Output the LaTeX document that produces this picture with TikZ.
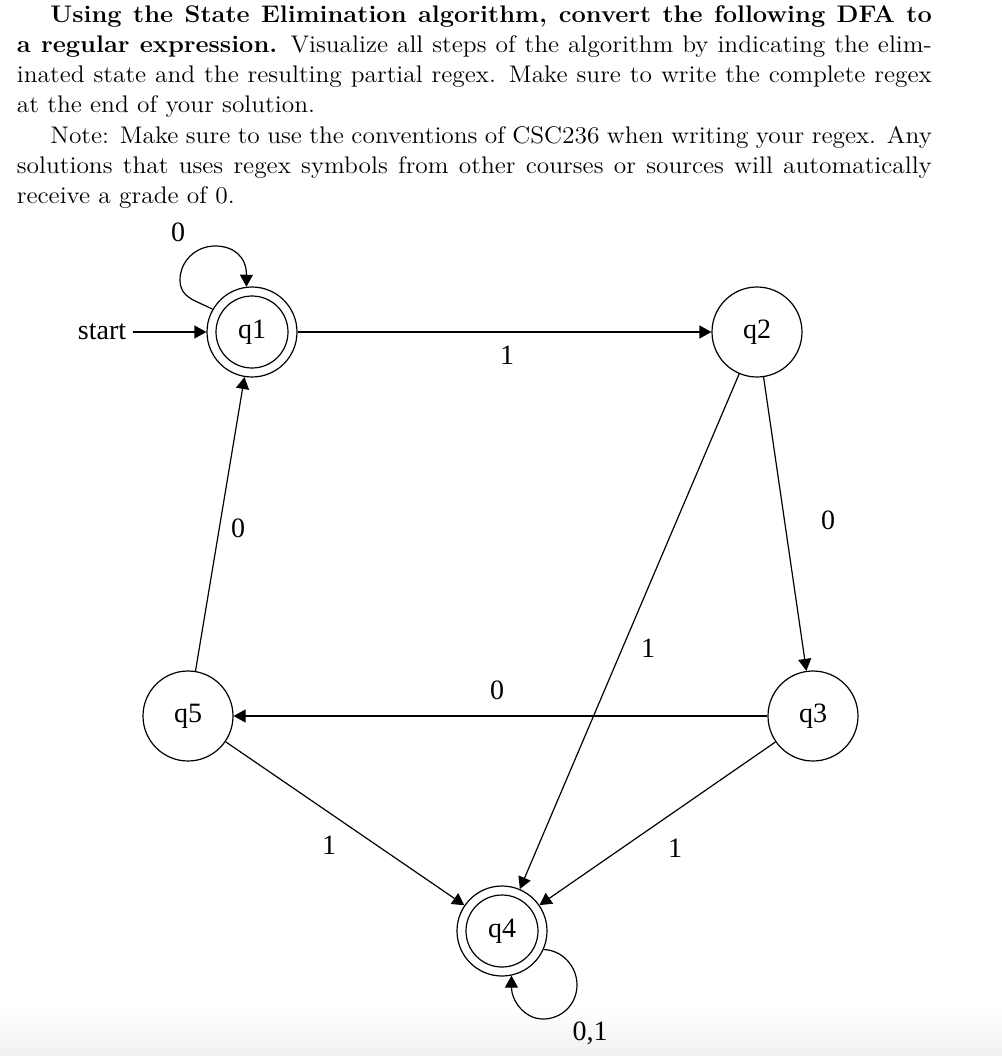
\documentclass[tikz,border=0pt]{standalone}
\usepackage{fontspec}
\newfontfamily\diagfont{Liberation Serif}
\usetikzlibrary{arrows.meta}
\newcommand{\fullline}[1]{\makebox[\linewidth][s]{#1}\\}
\newcommand{\raggline}[1]{\makebox[\linewidth][l]{#1}\\}
\begin{document}
\begin{tikzpicture}[x=0.5pt,y=-0.5pt,
  st/.style={circle, draw, line width=0.6pt, minimum size=45pt, inner sep=0pt, font=\diagfont\fontsize{14}{16}\selectfont},
  acc/.style={st, path picture={\draw[line width=0.6pt] (path picture bounding box.center) circle (18pt);}},
  lbl/.style={font=\diagfont\fontsize{14}{16}\selectfont, inner sep=0pt},
  tr/.style={draw, line width=0.6pt, -{Triangle[length=6pt,width=6.5pt]}}]
\useasboundingbox (0,0) rectangle (1002,1056);
\shade[top color=white, bottom color=black!6] (0,1010) rectangle (1002,1056);

\node[anchor=base west, inner sep=0pt] (para) at (16.5,22) {\scalebox{1.059}[1.0]{\parbox[t]{432pt}{\fontsize{12}{15.15}\selectfont\noindent
\fullline{\hspace*{15.8pt}\textbf{Using the State Elimination algorithm, convert the following DFA to}}
\fullline{\textbf{a regular expression.} Visualize all steps of the algorithm by indicating the elim-}
\fullline{inated state and the resulting partial regex. Make sure to write the complete regex}
\raggline{at the end of your solution.}
\fullline{\hspace*{15.8pt}Note: Make sure to use the conventions of CSC236 when writing your regex. Any}
\fullline{solutions that uses regex symbols from other courses or sources will automatically}
\makebox[\linewidth][l]{receive a grade of 0.}}}};

\node[acc] (q1) at (252,332) {q1};
\node[st]  (q2) at (757,332) {q2};
\node[st]  (q3) at (813,716) {q3};
\node[acc] (q4) at (502,931) {q4};
\node[st]  (q5) at (188,716) {q5};
\node[lbl, inner sep=3pt] (start) at (102,332) {start};

\draw[tr] (start) -- (q1);
\draw[tr] (q1) -- (q2);
\draw[tr] (q2) -- (q3);
\draw[tr] (q2) -- (q4);
\draw[tr] (q3) -- (q5);
\draw[tr] (q5) -- (q1);
\draw[tr] (q5) -- (q4);
\draw[tr] (q3) -- (q4);
\draw[tr] (q1.150) .. controls (195,300) and (180,298) .. (180,280)
  .. controls (180,261) and (196,246) .. (215,246)
  .. controls (234,246) and (246.5,257) .. (q1.97);
\draw[tr] (q4.336) .. controls (562,950) and (577,966) .. (577,985)
  .. controls (577,1004) and (562,1019) .. (543,1019)
  .. controls (524,1019) and (511.4,1000) .. (q4.282);

\node[lbl] (l11) at (178,232) {0};
\node[lbl] (l12) at (507,355) {1};
\node[lbl] (l23) at (828,520) {0};
\node[lbl] (l24) at (648,648) {1};
\node[lbl] (l35) at (497,690) {0};
\node[lbl] (l51) at (238,528) {0};
\node[lbl] (l54) at (329,845) {1};
\node[lbl] (l34) at (675,848) {1};
\node[lbl] (l44) at (590,1033) {0,1};
\end{tikzpicture}
\end{document}
